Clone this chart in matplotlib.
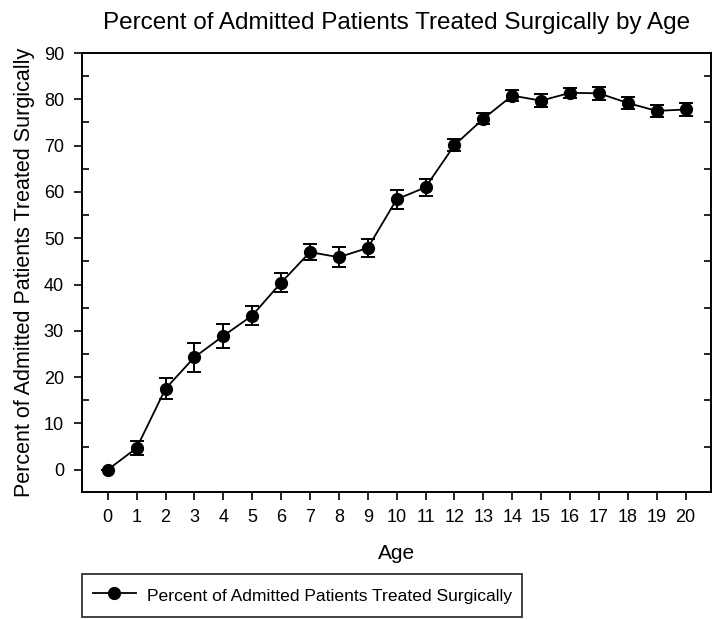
import matplotlib
matplotlib.use("Agg")
import matplotlib.pyplot as plt
from matplotlib.ticker import MultipleLocator
from matplotlib.lines import Line2D

ages = list(range(0, 21))
percent = [0.0, 4.7, 17.5, 24.3, 28.9, 33.3, 40.4, 47.0, 45.9, 47.9, 58.4,
           61.0, 70.1, 75.8, 80.8, 79.7, 81.4, 81.3, 79.2, 77.5, 77.8]
err = [0.0, 1.6, 2.3, 3.1, 2.6, 2.0, 2.0, 1.75, 2.1, 2.0, 2.0,
       1.8, 1.35, 1.15, 1.25, 1.4, 1.1, 1.35, 1.3, 1.25, 1.4]

title = "Percent of Admitted Patients Treated Surgically by Age"
ylabel = "Percent of Admitted Patients Treated Surgically"
xlabel = "Age"
legend_label = "Percent of Admitted Patients Treated Surgically"

plt.rcParams['font.family'] = ['Liberation Sans', 'DejaVu Sans']

fig = plt.figure(figsize=(7.24, 6.2), dpi=100)
ax = fig.add_axes([82/724, 1-492/620, (711-82)/724, (492-53)/620])

ax.errorbar(ages, percent, yerr=err, color='black', marker='o', markersize=8.5,
            linewidth=1.3, elinewidth=1.4, capsize=5, capthick=1.4)

ax.set_xlim(-0.89, 20.88)
ax.set_ylim(-4.8, 90)
ax.set_xticks(ages)
ax.yaxis.set_major_locator(MultipleLocator(10))
ax.yaxis.set_minor_locator(MultipleLocator(5))

for s in ax.spines.values():
    s.set_linewidth(1.4)

ax.tick_params(axis='both', which='major', direction='out', length=6, width=1.2,
               labelsize=13)
ax.tick_params(axis='x', which='major', pad=6)
ax.tick_params(axis='y', which='major', left=True, right=False, pad=7)
ax.tick_params(axis='y', which='minor', direction='in', length=5, width=1.2,
               left=True, right=True)
ax.tick_params(axis='x', which='minor', bottom=False)

ax.set_title(title, fontsize=17.5, pad=17)
ax.set_xlabel(xlabel, fontsize=15, labelpad=13)
ax.set_ylabel(ylabel, fontsize=15.5, labelpad=6)

handle = Line2D([], [], color='black', marker='o', markersize=8.5, linewidth=1.3)
leg = fig.legend([handle], [legend_label], loc='lower left',
                 bbox_to_anchor=(82/724, 1-617/620),
                 frameon=True, fancybox=False, edgecolor='black', fontsize=12.6,
                 handlelength=2.5, handleheight=1.6, handletextpad=0.6,
                 borderpad=0.6, borderaxespad=0)
leg.get_frame().set_linewidth(1.3)

fig.savefig("out.png", dpi=100)
